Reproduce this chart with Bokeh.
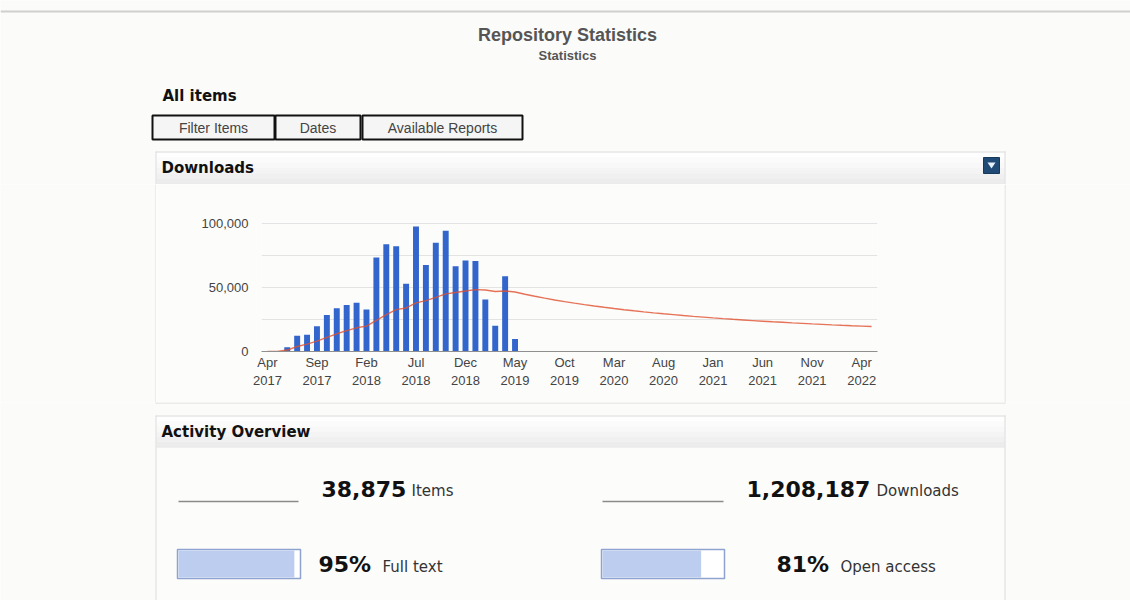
from bokeh.plotting import figure
from bokeh.models import Range1d, FixedTicker, NumeralTickFormatter
from bokeh.layouts import column, row
from bokeh.embed import file_html
from bokeh.resources import INLINE
from bokeh.core.properties import value

# ---------------- data ----------------
page_title = "Repository Statistics"
page_subtitle = "Statistics"
section_title = "All items"
button_labels = ["Filter Items", "Dates", "Available Reports"]
chart_title = "Downloads"
overview_title = "Activity Overview"

bar_months = ["2017-06", "2017-07", "2017-08", "2017-09", "2017-10", "2017-11",
              "2017-12", "2018-01", "2018-02", "2018-03", "2018-04", "2018-05",
              "2018-06", "2018-07", "2018-08", "2018-09", "2018-10", "2018-11",
              "2018-12", "2019-01", "2019-02", "2019-03", "2019-04", "2019-05"]
bar_downloads = [3400, 12300, 13000, 19800, 28500, 33700,
                 36300, 38100, 32900, 73400, 83800, 82200,
                 53000, 97700, 67600, 84900, 94300, 66600,
                 71000, 70800, 40700, 20100, 58700, 9700]

avg_start_month = "2017-04"
avg_downloads = [0, 0, 1130, 3930, 5740, 8080, 11000, 13840, 16330, 18510,
                 19820, 24280, 28860, 32670, 34030, 38010, 39750, 42260, 44990, 46080,
                 47260, 48330, 48000, 46840, 47310, 46470, 44750, 43150, 41660, 40270,
                 38970, 37760, 36610, 35540, 34520, 33560, 32650, 31790, 30980, 30200,
                 29470, 28770, 28100, 27460, 26850, 26270, 25710, 25170, 24660, 24160,
                 23690, 23230, 22800, 22370, 21970, 21570, 21200, 20830, 20480, 20140,
                 19810, 19480]

tick_months = ["2017-04", "2017-09", "2018-02", "2018-07", "2018-12", "2019-05", "2019-10",
               "2020-03", "2020-08", "2021-01", "2021-06", "2021-11", "2022-04"]
tick_labels = ["Apr\n2017", "Sep\n2017", "Feb\n2018", "Jul\n2018", "Dec\n2018", "May\n2019",
               "Oct\n2019", "Mar\n2020", "Aug\n2020", "Jan\n2021", "Jun\n2021", "Nov\n2021",
               "Apr\n2022"]
y_ticks = [0, 50000, 100000]
y_grid_ticks = [0, 25000, 50000, 75000, 100000]

items_count = 38875
items_label = "Items"
downloads_total = 1208187
downloads_label = "Downloads"
full_text_pct = 95
full_text_label = "Full text"
open_access_pct = 81
open_access_label = "Open access"

# ---------------- helpers ----------------
BG = "#fbfbf9"
PANEL = "#fcfcfb"
BORDER = "#dcdcdc"
VERDANA = "DejaVu Sans"
ARIAL = "Liberation Sans"


def month_index(s):
    y, m = s.split("-")
    return (int(y) - 2017) * 12 + (int(m) - 4)


def page_fig(x0, x1, y0, y1):
    f = figure(width=x1 - x0, height=y1 - y0, x_range=Range1d(x0, x1), y_range=Range1d(y1, y0),
               x_axis_location=None, y_axis_location=None, min_border=0,
               toolbar_location=None, output_backend="svg", outline_line_color=None,
               background_fill_color=BG, border_fill_color=BG, frame_align=False)
    f.grid.visible = False
    return f


def txt(f, x, y, s, size, font=VERDANA, style="normal", color="#222", align="left", baseline="middle"):
    f.text(x=[x], y=[y], text=[s], text_font=value(font), text_font_size=size,
           text_font_style=style, text_color=color, text_align=align, text_baseline=baseline)


def header_bar(f, x0, x1, y0, y1):
    cols = ["#fefefe", "#fbfbfb", "#f8f8f8", "#f4f4f4", "#f0f0f0", "#ececec"]
    n = len(cols)
    h = (y1 - y0) / n
    for i, c in enumerate(cols):
        f.quad(left=x0, right=x1, top=y0 + i * h, bottom=y0 + (i + 1) * h,
               fill_color=c, line_color=None)
    f.segment(x0=[x0], y0=[y1 + 0.5], x1=[x1], y1=[y1 + 0.5], line_color="#e2e2e2", line_width=1)


def vline(f, x, y0, y1, color=BORDER):
    f.segment(x0=[x], y0=[y0], x1=[x], y1=[y1], line_color=color, line_width=1)


def hline(f, y, x0, x1, color=BORDER, w=1):
    f.segment(x0=[x0], y0=[y], x1=[x1], y1=[y], line_color=color, line_width=w)


# ---------------- top part ----------------
T = page_fig(0, 1130, 0, 184)
T.quad(left=0, right=1130, top=10, bottom=12, fill_color="#cfcfcf", line_color=None)
txt(T, 567, 34, page_title, "18px", font=ARIAL, style="bold", color="#555555", align="center")
txt(T, 567, 55, page_subtitle, "13px", font=ARIAL, style="bold", color="#555555", align="center")
txt(T, 162, 95, section_title, "15px", style="bold", color="#111111")

btn_edges = [(152, 274), (275, 360), (362, 522)]
for (bx0, bx1), lab in zip(btn_edges, button_labels):
    T.quad(left=bx0, right=bx1, top=115, bottom=139, fill_color="#f5f5f5",
           line_color="#111111", line_width=2)
    txt(T, (bx0 + bx1) / 2, 127, lab, "14px", font=ARIAL, color="#444444", align="center")

# downloads panel header
T.quad(left=155.5, right=1004.5, top=151.5, bottom=184, fill_color=PANEL, line_color=None)
header_bar(T, 156, 1004, 152, 183)
hline(T, 151.5, 155, 1005)
vline(T, 155.5, 151, 184)
vline(T, 1004.5, 151, 184)
txt(T, 161, 167, chart_title, "15px", style="bold", color="#111111")
T.quad(left=983, right=999, top=157, bottom=173, fill_color="#1f4b76", line_color="#173a5c")
T.patch(x=[987, 995, 991], y=[162, 162, 168], fill_color="#e8f0f8", line_color=None)

# ---------------- middle row ----------------
L = page_fig(0, 156, 184, 402)
vline(L, 155.5, 184, 402)
R = page_fig(1004, 1130, 184, 402)
vline(R, 1004.5, 184, 402)

C = figure(width=848, height=218, x_range=Range1d(-0.6, 61.6),
           y_range=Range1d(0, 100000 + 100000 / 128),
           min_border_left=105, min_border_right=127, min_border_top=38, min_border_bottom=51,
           toolbar_location=None, output_backend="svg", outline_line_color=None,
           background_fill_color=PANEL, border_fill_color=PANEL, frame_align=False)

tick_idx = [month_index(m) for m in tick_months]
C.xaxis.ticker = FixedTicker(ticks=tick_idx)
C.xaxis.major_label_overrides = {i: lab for i, lab in zip(tick_idx, tick_labels)}
C.xaxis.axis_line_color = "#8f8f8f"
C.xaxis.major_tick_line_color = None
C.xaxis.minor_tick_line_color = None
C.xaxis.major_tick_out = 0
C.xaxis.major_label_standoff = 3
C.xaxis.major_label_text_font = ARIAL
C.xaxis.major_label_text_font_size = "13px"
C.xaxis.major_label_text_color = "#444444"

C.yaxis.ticker = FixedTicker(ticks=y_ticks)
C.yaxis.formatter = NumeralTickFormatter(format="0,0")
C.yaxis.axis_line_color = None
C.yaxis.major_tick_line_color = None
C.yaxis.minor_tick_line_color = None
C.yaxis.major_tick_out = 0
C.yaxis.major_label_standoff = 13
C.yaxis.major_label_text_font = ARIAL
C.yaxis.major_label_text_font_size = "13px"
C.yaxis.major_label_text_color = "#444444"

C.xgrid.visible = False
C.ygrid.ticker = FixedTicker(ticks=y_grid_ticks)
C.ygrid.grid_line_color = "#e3e3e3"

bar_idx = [month_index(m) for m in bar_months]
C.vbar(x=bar_idx, top=bar_downloads, width=0.6, fill_color="#3366cc", line_color=None)
a0 = month_index(avg_start_month)
avg_idx = [a0 + i for i in range(len(avg_downloads))]
C.line(x=avg_idx, y=avg_downloads, line_color="#e0502e", line_width=1.4, line_alpha=0.8)

# ---------------- bottom part ----------------
B = page_fig(0, 1130, 402, 600)
hline(B, 402.5, 155, 1005)
vline(B, 155.5, 402, 403)
vline(B, 1004.5, 402, 403)

B.quad(left=155.5, right=1004.5, top=415.5, bottom=600, fill_color=PANEL, line_color=None)
header_bar(B, 156, 1004, 416, 446)
hline(B, 415.5, 155, 1005)
vline(B, 155.5, 415, 600)
vline(B, 1004.5, 415, 600)
txt(B, 161, 431, overview_title, "15px", style="bold", color="#111111")

# counts
hline(B, 501, 178, 298, color="#8a8a8a", w=1.5)
hline(B, 501, 602, 723, color="#8a8a8a", w=1.5)
txt(B, 321, 488, f"{items_count:,}", "22px", style="bold", color="#111111")
txt(B, 411, 490, items_label, "15px", color="#333333")
txt(B, 746, 488, f"{downloads_total:,}", "22px", style="bold", color="#111111")
txt(B, 876, 490, downloads_label, "15px", color="#333333")

# progress bars
for bx0, pct, tx, lx, lab in [(177, full_text_pct, 318, 382, full_text_label),
                             (601, open_access_pct, 776, 840, open_access_label)]:
    bw = 123
    B.quad(left=bx0, right=bx0 + bw, top=549, bottom=578, fill_color="white",
           line_color="#8ea3cf", line_width=1.5)
    B.quad(left=bx0 + 1, right=bx0 + bw * pct / 100, top=550, bottom=577,
           fill_color="#bccdef", line_color=None)
    txt(B, tx, 564, f"{pct}%", "22px", style="bold", color="#111111")
    txt(B, lx, 566, lab, "15px", color="#333333")

layout = column(T, row(L, C, R), B)
open("out.html", "w").write(file_html(layout, INLINE))
